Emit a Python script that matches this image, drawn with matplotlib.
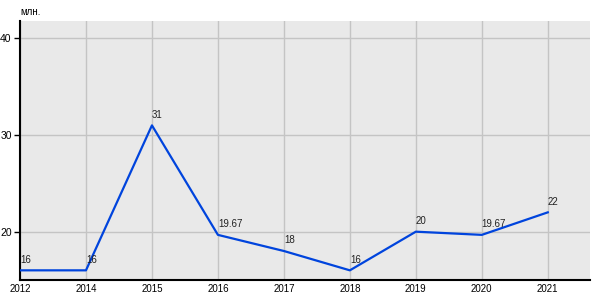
import matplotlib
matplotlib.use("Agg")
import matplotlib.pyplot as plt

years = ["2012", "2014", "2015", "2016", "2017", "2018", "2019", "2020", "2021"]
values = [16, 16, 31, 19.67, 18, 16, 20, 19.67, 22]
value_labels = ["16", "16", "31", "19.67", "18", "16", "20", "19.67", "22"]
y_ticks = [20, 30, 40]

plt.rcParams['font.family'] = ['Liberation Sans', 'DejaVu Sans']

fig = plt.figure(figsize=(6, 3), dpi=100)
ax = fig.add_axes([20 / 600, 20 / 300, 570 / 600, 259 / 300])
ax.set_facecolor("#e9e9e9")

x = list(range(len(years)))
ax.plot(x, values, color="#0044dd", linewidth=1.6, zorder=3)
for xi, v, lab in zip(x, values, value_labels):
    ax.annotate(lab, (xi, v), xytext=(0, 4), textcoords="offset points",
                ha="left", va="bottom", fontsize=7, color="#222222", zorder=4)

ax.set_xlim(0, 8.64)
ax.set_ylim(15.0, 41.8)
ax.set_xticks(x)
ax.set_xticklabels(years, fontsize=7)
ax.set_yticks(y_ticks)
ax.set_yticklabels([str(t) for t in y_ticks], fontsize=7.5)
ax.tick_params(axis="x", length=0, pad=3)
ax.tick_params(axis="y", length=4, width=1, pad=2)
ax.grid(True, color="#c4c4c4", linewidth=1)
ax.set_axisbelow(True)
for s in ["top", "right"]:
    ax.spines[s].set_visible(False)
for s in ["left", "bottom"]:
    ax.spines[s].set_linewidth(1.5)
    ax.spines[s].set_color("black")

fig.text(20 / 600, 1 - 12 / 300, "млн.", fontsize=7, ha="left", va="center")

fig.savefig("out.png", dpi=100)
